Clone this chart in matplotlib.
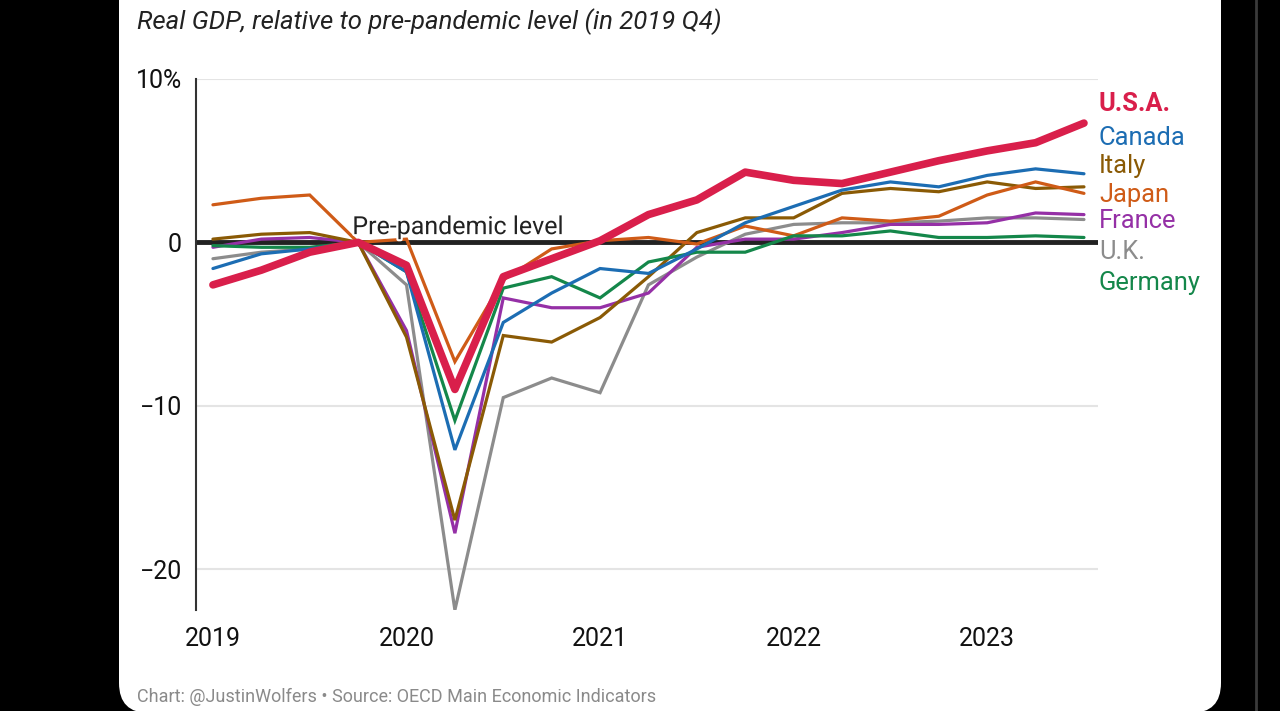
import matplotlib
matplotlib.use('Agg')
import matplotlib.pyplot as plt
import matplotlib.patheffects as pe
import matplotlib.transforms as mtransforms
from matplotlib.patches import FancyBboxPatch
from matplotlib.lines import Line2D

plt.rcParams['font.family'] = ['Roboto', 'DejaVu Sans']

# quarterly data, 2019Q1 .. 2023Q3, % relative to 2019Q4
quarters = ['2019Q1', '2019Q2', '2019Q3', '2019Q4',
            '2020Q1', '2020Q2', '2020Q3', '2020Q4',
            '2021Q1', '2021Q2', '2021Q3', '2021Q4',
            '2022Q1', '2022Q2', '2022Q3', '2022Q4',
            '2023Q1', '2023Q2', '2023Q3']
year_labels = ['2019', '2020', '2021', '2022', '2023']

usa = [-2.6, -1.7, -0.6, 0.0, -1.4, -9.0, -2.1, -1.0, 0.1, 1.7, 2.6, 4.3, 3.8, 3.6, 4.3, 5.0, 5.6, 6.1, 7.3]
canada = [-1.6, -0.7, -0.4, 0.0, -1.8, -12.7, -4.9, -3.1, -1.6, -1.9, -0.4, 1.2, 2.2, 3.2, 3.7, 3.4, 4.1, 4.5, 4.2]
italy = [0.2, 0.5, 0.6, 0.0, -5.8, -17.0, -5.7, -6.1, -4.6, -2.1, 0.6, 1.5, 1.5, 3.0, 3.3, 3.1, 3.7, 3.3, 3.4]
japan = [2.3, 2.7, 2.9, 0.0, 0.2, -7.3, -2.3, -0.4, 0.1, 0.3, -0.1, 1.0, 0.4, 1.5, 1.3, 1.6, 2.9, 3.7, 3.0]
france = [-0.3, 0.2, 0.3, 0.0, -5.4, -17.8, -3.4, -4.0, -4.0, -3.1, -0.3, 0.2, 0.2, 0.6, 1.1, 1.1, 1.2, 1.8, 1.7]
uk = [-1.0, -0.6, -0.4, 0.0, -2.6, -22.5, -9.5, -8.3, -9.2, -2.6, -0.9, 0.5, 1.1, 1.2, 1.2, 1.3, 1.5, 1.5, 1.4]
germany = [-0.2, -0.3, -0.3, 0.0, -1.8, -10.9, -2.8, -2.1, -3.4, -1.2, -0.6, -0.6, 0.4, 0.4, 0.7, 0.3, 0.3, 0.4, 0.3]

names = ['U.S.A.', 'Canada', 'Italy', 'Japan', 'France', 'U.K.', 'Germany']
colors = ['#d91f4b', '#1c6db3', '#8a5a05', '#cf5b17', '#9530a6', '#8c8c8c', '#14874a']

fig = plt.figure(figsize=(12.8, 7.11), dpi=100, facecolor='black')

# white card behind the chart
card = FancyBboxPatch((119, -2), 1102, 800, boxstyle='round,pad=0,rounding_size=30',
                      transform=mtransforms.IdentityTransform(), facecolor='white',
                      edgecolor='none', zorder=-5)
fig.patches.append(card)
fig.lines.append(Line2D([1256, 1256], [0, 711], transform=mtransforms.IdentityTransform(),
                        color='#3a3a3a', lw=2, zorder=-5))

ax = fig.add_axes([196 / 1280, 101 / 711, 902 / 1280, 531 / 711])
ax.set_facecolor('none')

x = list(range(len(quarters)))
series = [usa, canada, italy, japan, france, uk, germany]

for yv in [10, -10, -20]:
    ax.axhline(yv, color='#e4e4e4', lw=1.5, zorder=1)
ax.axhline(0, color='#222222', lw=3.5, zorder=2)

# thin lines first, U.S.A. on top
order = [5, 4, 2, 3, 6, 1, 0]
for i in order:
    lw = 5.5 if i == 0 else 2.3
    ax.plot(x, series[i], color=colors[i], lw=lw, solid_joinstyle='miter' if i else 'round',
            solid_capstyle='round', zorder=3 + (2 if i == 0 else 0))

ax.set_xlim(-0.35, 18.29)
ax.set_ylim(-22.5, 10)

for s in ['top', 'right', 'bottom']:
    ax.spines[s].set_visible(False)
ax.spines['left'].set_color('#333333')
ax.spines['left'].set_linewidth(1.5)

ax.set_yticks([10, 0, -10, -20])
ax.set_yticklabels(['10%', '0', '\u221210', '\u221220'])
ax.set_xticks([0, 4, 8, 12, 16])
ax.set_xticklabels(year_labels)
ax.tick_params(axis='both', length=0, labelsize=18, colors='#111111')
ax.tick_params(axis='y', pad=10)
ax.tick_params(axis='x', pad=12)

ax.text(2.88, 0.2, 'Pre-pandemic level', fontsize=18, color='#222222', ha='left', va='bottom',
        zorder=6, path_effects=[pe.withStroke(linewidth=3, foreground='white')])

# series labels at the right edge
label_y = [8.5, 6.4, 4.7, 2.9, 1.3, -0.6, -2.5]
trans = mtransforms.blended_transform_factory(ax.transAxes, ax.transData)
for i, name in enumerate(names):
    ax.text(1.001, label_y[i], name, transform=trans, color=colors[i], fontsize=18.4,
            fontweight='bold' if i == 0 else 'normal', ha='left', va='center', clip_on=False)

fig.text(137 / 1280, 1 - 22 / 711, 'Real GDP, relative to pre-pandemic level (in 2019 Q4)',
         fontsize=18.5, style='italic', color='#222222', ha='left', va='center')
fig.text(137 / 1280, 1 - 697 / 711, 'Chart: @JustinWolfers \u2022 Source: OECD Main Economic Indicators',
         fontsize=13, color='#8a8a8a', ha='left', va='center')

fig.savefig('out.png', dpi=100, facecolor='black')
